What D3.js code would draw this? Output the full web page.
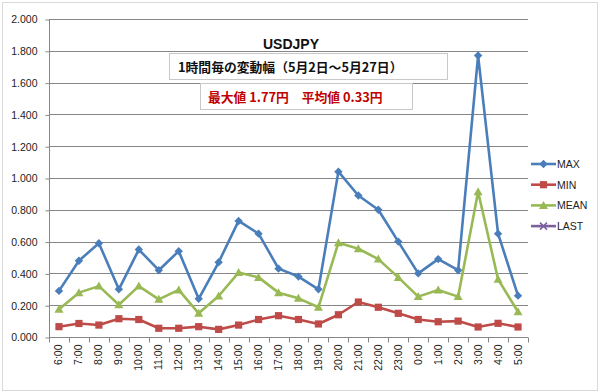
<!DOCTYPE html>
<html><head><meta charset="utf-8">
<script src="https://cdn.jsdelivr.net/npm/d3@7"></script>
<style>body{margin:0;background:#fff;}svg{display:block;font-family:"Liberation Sans",Arial,sans-serif;}</style>
</head><body>
<svg id="c" width="600" height="392"></svg>
<script>
const categories = ["6:00","7:00","8:00","9:00","10:00","11:00","12:00","13:00","14:00","15:00","16:00","17:00","18:00","19:00","20:00","21:00","22:00","23:00","0:00","1:00","2:00","3:00","4:00","5:00"];
const maxValues  = [0.29,0.48,0.59,0.30,0.55,0.42,0.54,0.24,0.47,0.73,0.65,0.43,0.38,0.30,1.04,0.89,0.80,0.60,0.40,0.49,0.42,1.77,0.65,0.26];
const minValues  = [0.065,0.085,0.075,0.115,0.11,0.055,0.055,0.065,0.048,0.075,0.11,0.134,0.11,0.082,0.14,0.22,0.187,0.149,0.11,0.096,0.10,0.063,0.086,0.063];
const meanValues = [0.174,0.279,0.32,0.203,0.32,0.237,0.296,0.149,0.258,0.405,0.375,0.279,0.243,0.187,0.593,0.555,0.49,0.375,0.254,0.296,0.254,0.914,0.363,0.159];
const lastValues = [];
const yTicks = [0,0.2,0.4,0.6,0.8,1.0,1.2,1.4,1.6,1.8,2.0];
const seriesNames = ["MAX","MIN","MEAN","LAST"];
const titleText = "USDJPY";
const subtitleText = "1時間毎の変動幅（5月2日～5月27日）";
const statsText = "最大値 1.77円　平均値 0.33円";

const colors = {MAX:"#4a7ebb", MIN:"#be4b48", MEAN:"#98b954", LAST:"#7d5fa0"};
const series = [
  {name:"MAX", values:maxValues, marker:"diamond"},
  {name:"MIN", values:minValues, marker:"square"},
  {name:"MEAN", values:meanValues, marker:"triangle"},
  {name:"LAST", values:lastValues, marker:"x"}
];

const svg = d3.select("#c");
svg.append("rect").attr("x",2.5).attr("y",2.5).attr("width",595).attr("height",388)
  .attr("fill","#fff").attr("stroke","#d9d9d9").attr("stroke-width",1);

const L=49, R=528, T=19, B=337;
const x = d3.scaleBand().domain(categories).range([L,R]);
const y = d3.scaleLinear().domain([0,2]).range([B,T]);

svg.append("g").selectAll("line").data(yTicks.filter(d=>d>0)).join("line")
  .attr("x1",L).attr("x2",R).attr("y1",d=>Math.round(y(d))+0.5).attr("y2",d=>Math.round(y(d))+0.5)
  .attr("stroke","#868686").attr("stroke-width",1);

const yAxis = d3.axisLeft(y).tickValues(yTicks).tickFormat(d3.format(".3f")).tickSize(4).tickPadding(8);
const gy = svg.append("g").attr("transform",`translate(${L+0.5},0.5)`).call(yAxis);
gy.selectAll("path,line").attr("stroke","#868686");
gy.selectAll("text").attr("font-size",10.5).attr("fill","#222");
gy.select(".domain").attr("d",`M0,${T}V${B}`);

const gx = svg.append("g").attr("transform",`translate(0,${B+0.5})`);
gx.append("line").attr("x1",L).attr("x2",R).attr("stroke","#868686");
const edges = categories.map(c=>x(c)).concat([R]);
gx.selectAll("line.tk").data(edges).join("line").attr("class","tk")
  .attr("x1",d=>Math.round(d)+0.5).attr("x2",d=>Math.round(d)+0.5).attr("y1",0).attr("y2",5).attr("stroke","#868686");
gx.selectAll("text").data(categories).join("text")
  .attr("transform",d=>`translate(${x(d)+x.bandwidth()/2+3.5},7) rotate(-90)`)
  .attr("text-anchor","end").attr("font-size",10.5).attr("fill","#222").text(d=>d);

const cx = (i)=>x(categories[i])+x.bandwidth()/2;
function marker(g, type, px, py, color){
  if(type==="diamond"){
    g.append("path").attr("d",`M${px},${py-4.2}L${px+4.2},${py}L${px},${py+4.2}L${px-4.2},${py}Z`).attr("fill",color);
  } else if(type==="square"){
    g.append("rect").attr("x",px-3.6).attr("y",py-3.6).attr("width",7.2).attr("height",7.2).attr("fill",color);
  } else if(type==="triangle"){
    g.append("path").attr("d",`M${px},${py-4.5}L${px+4.5},${py+3.5}L${px-4.5},${py+3.5}Z`).attr("fill",color);
  } else {
    g.append("path").attr("d",`M${px-3.5},${py-3.5}L${px+3.5},${py+3.5}M${px-3.5},${py+3.5}L${px+3.5},${py-3.5}`).attr("stroke",color).attr("stroke-width",1.5);
  }
}
const line = d3.line().x((d,i)=>cx(i)).y(d=>y(d));
series.slice().reverse().forEach(s=>{
  if(!s.values.length) return;
  const g = svg.append("g");
  g.append("path").attr("d",line(s.values)).attr("fill","none").attr("stroke",colors[s.name])
    .attr("stroke-width",2.6).attr("stroke-linejoin","round");
  s.values.forEach((v,i)=>marker(g,s.marker,cx(i),y(v),colors[s.name]));
});

const lg = svg.append("g");
series.forEach((s,i)=>{
  const ly = 164 + i*20.7;
  lg.append("line").attr("x1",531).attr("x2",556).attr("y1",ly).attr("y2",ly).attr("stroke",colors[s.name]).attr("stroke-width",2.6);
  marker(lg,s.marker,543.5,ly,colors[s.name]);
  lg.append("text").attr("x",557).attr("y",ly+4).attr("font-size",10.5).attr("fill","#222").text(s.name);
});

svg.append("text").attr("x",291).attr("y",49).attr("text-anchor","middle").attr("font-size",14).attr("font-weight","bold")
  .attr("fill","#111").text(titleText);
svg.append("rect").attr("x",169.5).attr("y",53.5).attr("width",278).attr("height",26).attr("fill","#fff").attr("stroke","#c8c8c8");
svg.append("text").attr("x",178).attr("y",71.5).attr("font-size",12.8).attr("font-weight","bold")
  .attr("font-family","'Noto Sans CJK JP',sans-serif").attr("fill","#111").text(subtitleText);
svg.append("rect").attr("x",200.5).attr("y",83.5).attr("width",212).attr("height",26).attr("fill","#fff").attr("stroke","#c8c8c8");
svg.append("text").attr("x",208).attr("y",101.5).attr("font-size",12.8).attr("font-weight","bold")
  .attr("font-family","'Noto Sans CJK JP',sans-serif").attr("fill","#c00000").text(statsText);
</script>
</body></html>
